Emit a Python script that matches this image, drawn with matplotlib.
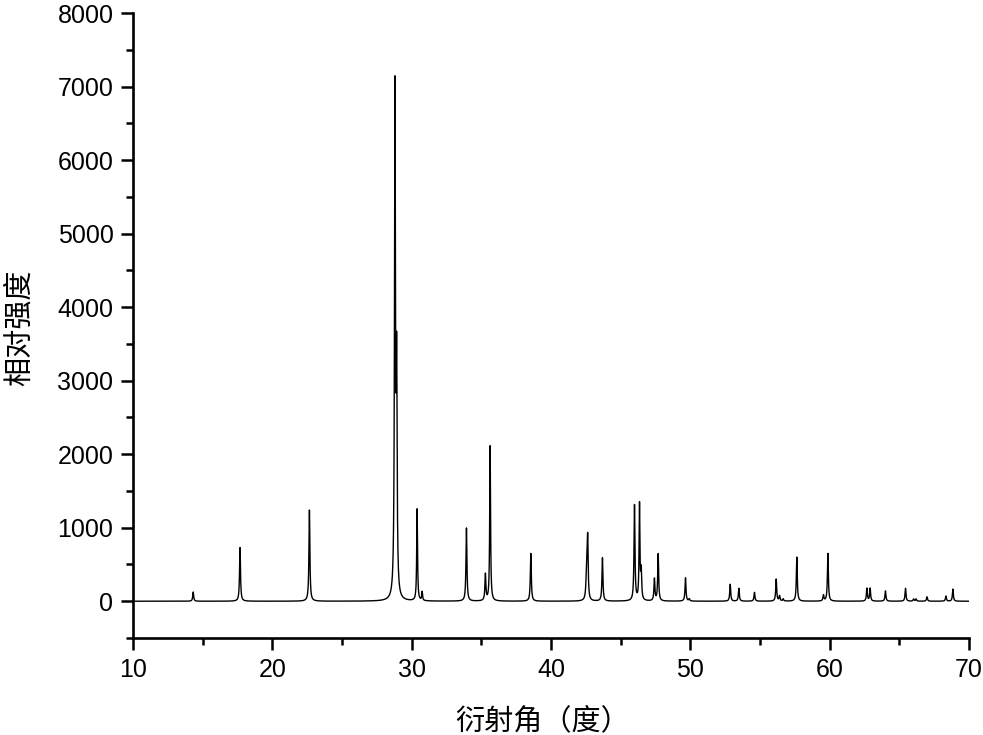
import matplotlib
matplotlib.use('Agg')
import matplotlib.pyplot as plt
import numpy as np
from matplotlib.ticker import MultipleLocator

plt.rcParams['font.family'] = ['Liberation Sans', 'Noto Sans CJK SC', 'DejaVu Sans']

# 衍射峰：位置（度）、强度、半高宽
peak_pos = [14.32, 17.68, 22.66, 28.80, 28.92, 30.39, 30.75, 33.93, 35.29, 35.63,
            38.55, 42.56, 42.63, 43.69, 45.99, 46.35, 46.47, 47.42, 47.69, 49.65, 49.92,
            52.86, 53.48, 54.60, 56.16, 56.40, 56.66, 57.64, 59.55, 59.87,
            62.67, 62.90, 64.00, 65.44, 66.02, 66.20, 66.98, 68.34, 68.84]
peak_int = [125, 730, 1240, 6850, 2980, 1250, 120, 995, 360, 2110,
            650, 450, 780, 590, 1300, 1300, 380, 300, 640, 317, 30,
            230, 175, 120, 300, 70, 30, 600, 80, 650,
            175, 175, 140, 175, 30, 30, 60, 70, 165]
peak_fwhm = [0.08, 0.08, 0.08, 0.08, 0.08, 0.07, 0.07, 0.08, 0.08, 0.07,
             0.08, 0.10, 0.08, 0.08, 0.08, 0.07, 0.08, 0.08, 0.08, 0.08, 0.08,
             0.08, 0.08, 0.08, 0.08, 0.08, 0.08, 0.08, 0.08, 0.08,
             0.08, 0.08, 0.08, 0.08, 0.08, 0.08, 0.08, 0.08, 0.08]

x = np.linspace(10, 70, 12001)
y = np.zeros_like(x)
for p, a, w in zip(peak_pos, peak_int, peak_fwhm):
    g = (w / 2) ** 2
    y += a * g / ((x - p) ** 2 + g)

fig = plt.figure(figsize=(9.83, 7.35), dpi=100)
ax = fig.add_axes([0.1353, 0.132, 0.8505, 0.850])
ax.plot(x, y, color='black', lw=1.0)

ax.set_xlim(10, 70)
ax.set_ylim(-500, 8000)
ax.xaxis.set_major_locator(MultipleLocator(10))
ax.xaxis.set_minor_locator(MultipleLocator(5))
ax.yaxis.set_major_locator(MultipleLocator(1000))
ax.yaxis.set_minor_locator(MultipleLocator(500))

for s in ['top', 'right']:
    ax.spines[s].set_visible(False)
for s in ['left', 'bottom']:
    ax.spines[s].set_linewidth(1.9)

ax.tick_params(which='major', direction='out', length=8.6, width=1.8, labelsize=18, pad=5.5)
ax.tick_params(which='minor', direction='out', length=5, width=1.8)

ax.set_xlabel('衍射角（度）', fontsize=21, family=['Noto Sans CJK SC'], va='center')
ax.xaxis.set_label_coords(0.49, -0.134)
ax.set_ylabel('相对强度', fontsize=21, family=['Noto Sans CJK SC'], va='center')
ax.yaxis.set_label_coords(-0.135, 0.496)

fig.savefig('out.png', dpi=100)
